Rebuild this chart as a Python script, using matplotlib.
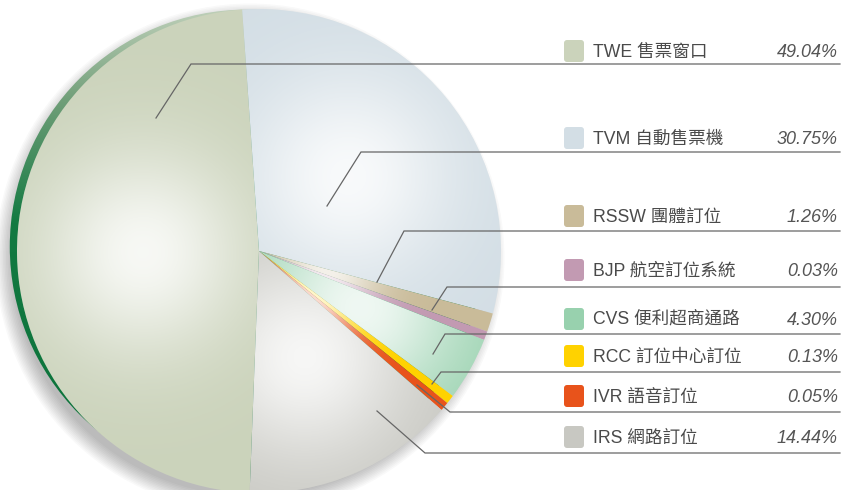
import numpy as np
import matplotlib.pyplot as plt
from matplotlib.patches import Circle, FancyBboxPatch
from matplotlib.colors import LinearSegmentedColormap

plt.rcParams['font.family'] = ['Liberation Sans', 'Noto Sans CJK TC']

# data
codes = ['TWE', 'TVM', 'RSSW', 'BJP', 'CVS', 'RCC', 'IVR', 'IRS']
names = ['售票窗口', '自動售票機', '團體訂位', '航空訂位系統', '便利超商通路', '訂位中心訂位', '語音訂位', '網路訂位']
shares = [49.04, 30.75, 1.26, 0.03, 4.30, 0.13, 0.05, 14.44]
colors = ['#cbd3bb', '#d3dee5', '#c9bb99', '#c29ab2', '#98d1ae', '#ffd200', '#e8531b', '#c8c8c2']

# layout (pixel coords, y from top)
legend_y = [51, 138, 216, 270, 319, 356, 396, 437]
line_y = [64, 152, 231, 287, 334, 372, 412, 453]
leader_start = [(156, 118), (327, 206), (377, 282), (432, 310), (433, 354), (432, 384), (417, 385), (377, 411)]
leader_bend = [(191, 64), (361, 152), (404, 231), (447, 287), (445, 334), (441, 372), (450, 412), (425, 453)]

W, H = 846, 490
fig = plt.figure(figsize=(W / 100, H / 100), dpi=100)
ax = fig.add_axes([0, 0, 1, 1])


def py(y):
    return H - y


cx, cy, R = 259, py(251), 242

# soft shadow
for i in range(12):
    ax.add_patch(Circle((cx - 9, cy - 7), R - 4 + i * 1.5, color='k', alpha=0.022, lw=0, zorder=1))

# green rim behind the pie
a = np.radians(160)
rc = (cx + 13 * np.cos(a), cy + 13 * np.sin(a))
rim = Circle(rc, R - 5, lw=0, fc='none', zorder=2)
ax.add_patch(rim)
rim_cmap = LinearSegmentedColormap.from_list(
    'rim', [(0, '#0a7139'), (0.55, '#137a42'), (0.8, '#6f9e78'), (1, '#c2d2bc')])
grad = np.linspace(0, 1, 256).reshape(-1, 1)
im = ax.imshow(grad, extent=[rc[0] - R, rc[0] + R, rc[1] - R, rc[1] + R], origin='lower',
               cmap=rim_cmap, aspect='auto', zorder=2)
im.set_clip_path(rim)

# tiny slices get a minimum visible width
disp = np.maximum(shares, 0.6)
frac = disp / disp.sum()
start = 94 + frac[0] * 360

wedges, _ = ax.pie(disp, colors=colors, startangle=start, counterclock=False,
                   center=(cx, cy), radius=R, wedgeprops=dict(lw=0, zorder=3))

# radial highlights per slice
n = 400
xs = np.linspace(cx - R, cx + R, n)
ys = np.linspace(cy - R, cy + R, n)
X, Y = np.meshgrid(xs, ys)
for w in wedges:
    span = abs(w.theta2 - w.theta1)
    mid = np.radians((w.theta1 + w.theta2) / 2)
    if span > 10:
        pos, sig, amp = 0.48, 0.42, 0.85
    else:
        pos, sig, amp = 0.3, 0.22, 0.8
    hx, hy = cx + pos * R * np.cos(mid), cy + pos * R * np.sin(mid)
    d = np.hypot(X - hx, Y - hy)
    img = np.ones((n, n, 4))
    img[..., 3] = amp * np.exp(-(d / (sig * R)) ** 2)
    hi = ax.imshow(img, extent=[cx - R, cx + R, cy - R, cy + R], origin='lower',
                   aspect='auto', zorder=4)
    hi.set_clip_path(w)

# leader lines and legend
for i in range(len(codes)):
    (x0, y0), (x1, y1) = leader_start[i], leader_bend[i]
    ax.plot([x0, x1, 840], [py(y0), py(y1), py(line_y[i])], color='#666666', lw=0.9,
            zorder=6, solid_joinstyle='miter')
    ax.add_patch(FancyBboxPatch((564, py(legend_y[i]) - 11), 20, 22,
                                boxstyle='round,pad=0,rounding_size=3',
                                fc=colors[i], ec='none', zorder=6))
    ax.text(593, py(legend_y[i] + 6), f'{codes[i]} {names[i]}', fontsize=12.7,
            color='#4a4a4a', va='baseline', zorder=7)
    ax.text(838, py(legend_y[i] + 6), f'{shares[i]:.2f}%', fontsize=13, style='italic',
            color='#555555', ha='right', va='baseline', zorder=7)

ax.set_xlim(0, W)
ax.set_ylim(0, H)
ax.set_aspect('equal')
ax.axis('off')

plt.savefig('out.png', dpi=100)
